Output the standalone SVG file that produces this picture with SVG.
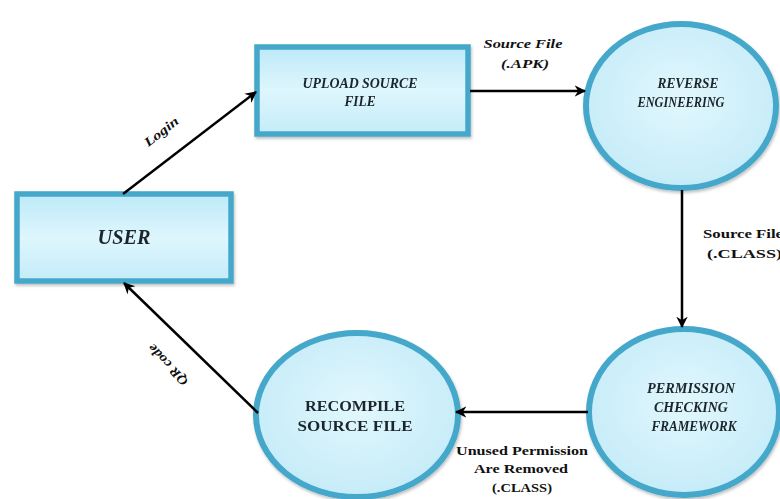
<svg xmlns="http://www.w3.org/2000/svg" width="780" height="499" viewBox="0 0 780 499">
<defs>
<linearGradient id="gBox" x1="0" y1="0" x2="0" y2="1">
<stop offset="0" stop-color="#bde9f8"/>
<stop offset="0.5" stop-color="#def6fd"/>
<stop offset="1" stop-color="#c4ecf9"/>
</linearGradient>
<radialGradient id="gCirc" cx="0.5" cy="0.45" r="0.6">
<stop offset="0" stop-color="#e2f7fd"/>
<stop offset="1" stop-color="#c3ebf8"/>
</radialGradient>
<marker id="arr" viewBox="0 0 12 12" refX="10" refY="6" markerWidth="5" markerHeight="5" orient="auto" markerUnits="strokeWidth">
<path d="M0,0.5 L11,6 L0,11.5 L3.5,6 Z" fill="#000"/>
</marker>
<filter id="sh" x="-10%" y="-10%" width="125%" height="130%">
<feDropShadow dx="1" dy="2" stdDeviation="1.5" flood-color="#000" flood-opacity="0.25"/>
</filter>
</defs>
<style>
.box{fill:url(#gBox);stroke:#44a8cb;stroke-width:5.5;}
.circ{fill:url(#gCirc);stroke:#44a8cb;stroke-width:6;}
.nl{font-family:"Liberation Serif","Times New Roman",serif;font-weight:bold;font-style:italic;fill:#1a262c;text-anchor:middle;}
.nr{font-family:"Liberation Serif","Times New Roman",serif;font-weight:bold;fill:#1a262c;text-anchor:middle;}
.el{font-family:"Liberation Serif","Times New Roman",serif;font-weight:bold;font-style:italic;fill:#111;text-anchor:middle;font-size:13px;}
.er{font-family:"Liberation Serif","Times New Roman",serif;font-weight:bold;fill:#111;font-size:13.5px;}
.c{fill:none;stroke:#000;stroke-width:2.5;marker-end:url(#arr);}
</style>

<g id="user" filter="url(#sh)">
<rect class="box" x="17" y="194" width="214" height="87"/>
<text class="nl" x="124" y="244" font-size="20" textLength="53" lengthAdjust="spacingAndGlyphs">USER</text>
</g>

<g id="upload" filter="url(#sh)">
<rect class="box" x="257" y="47" width="211" height="87"/>
<text class="nl" x="360" y="88" font-size="15" textLength="115" lengthAdjust="spacingAndGlyphs">UPLOAD SOURCE</text>
<text class="nl" x="360" y="106" font-size="15" textLength="31" lengthAdjust="spacingAndGlyphs">FILE</text>
</g>

<g id="reverse" filter="url(#sh)">
<ellipse class="circ" cx="681" cy="106" rx="95" ry="82"/>
<text class="nl" x="688" y="88" font-size="14" textLength="61" lengthAdjust="spacingAndGlyphs">REVERSE</text>
<text class="nl" x="681" y="107" font-size="14" textLength="87" lengthAdjust="spacingAndGlyphs">ENGINEERING</text>
</g>

<g id="permission" filter="url(#sh)">
<ellipse class="circ" cx="684" cy="412" rx="95" ry="83"/>
<text class="nl" x="691" y="393" font-size="14" textLength="88" lengthAdjust="spacingAndGlyphs">PERMISSION</text>
<text class="nl" x="691" y="412" font-size="14" textLength="74" lengthAdjust="spacingAndGlyphs">CHECKING</text>
<text class="nl" x="694" y="431" font-size="14" textLength="85" lengthAdjust="spacingAndGlyphs">FRAMEWORK</text>
</g>

<g id="recompile" filter="url(#sh)">
<ellipse class="circ" cx="357" cy="415" rx="101" ry="82"/>
<text class="nr" x="355" y="411" font-size="15" textLength="100" lengthAdjust="spacingAndGlyphs">RECOMPILE</text>
<text class="nr" x="355" y="431" font-size="15" textLength="115" lengthAdjust="spacingAndGlyphs">SOURCE FILE</text>
</g>

<g id="connectors">
<line class="c" x1="123" y1="194" x2="256" y2="92"/>
<line class="c" x1="470" y1="91" x2="585" y2="91"/>
<line class="c" x1="682" y1="190" x2="682" y2="327"/>
<line class="c" x1="588" y1="412" x2="456" y2="412"/>
<line class="c" x1="258" y1="413" x2="124" y2="283"/>
<text class="el" x="0" y="0" transform="translate(164,135) rotate(-38)" font-size="13" textLength="40" lengthAdjust="spacingAndGlyphs">Login</text>
<text class="el" x="523" y="48" textLength="79" lengthAdjust="spacingAndGlyphs">Source File</text>
<text class="el" x="525" y="68" textLength="48" lengthAdjust="spacingAndGlyphs">(.APK)</text>
<text class="er" x="703" y="238" textLength="80" lengthAdjust="spacingAndGlyphs">Source File</text>
<text class="er" x="707" y="258" textLength="75" lengthAdjust="spacingAndGlyphs">(.CLASS)</text>
<text class="er" x="522" y="455" text-anchor="middle" textLength="132" lengthAdjust="spacingAndGlyphs">Unused Permission</text>
<text class="er" x="521" y="473" text-anchor="middle" textLength="94" lengthAdjust="spacingAndGlyphs">Are Removed</text>
<text class="er" x="522" y="492" text-anchor="middle" textLength="60" lengthAdjust="spacingAndGlyphs">(.CLASS)</text>
<text class="el" x="0" y="0" transform="translate(171,362) rotate(227)" font-size="13" textLength="52" lengthAdjust="spacingAndGlyphs">QR code</text>
</g>
</svg>
